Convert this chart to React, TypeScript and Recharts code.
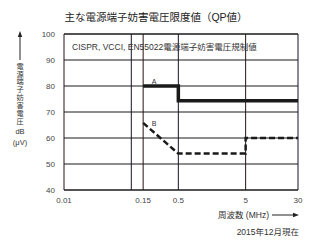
import React from 'react';
import { LineChart, Line, XAxis, YAxis, CartesianGrid, ReferenceLine } from 'recharts';

const xTicks = [0.01, 0.1, 0.15, 0.5, 5, 30];
const xUnlabeled = [0.1];
const xGridA = [0.01, 0.15, 5];
const xGridB = [0.1, 0.5, 30];
const yTicks = [40, 50, 60, 70, 80, 90, 100];

const limitA = [
  { f: 0.15, v: 80 },
  { f: 0.5, v: 80 },
  { f: 0.5, v: 74.3 },
  { f: 30, v: 74.3 },
];

const limitB = [
  { f: 0.15, v: 65.8 },
  { f: 0.5, v: 54 },
  { f: 5, v: 54 },
  { f: 5, v: 60 },
  { f: 30, v: 60 },
];

const yLabelText = '電源端子妨害電圧';

const FONT = '"Liberation Sans", Arial, "Noto Sans CJK JP", sans-serif';
const CJK = '"Noto Sans CJK JP", sans-serif';

export default function App() {
  return (
    <div style={{ position: 'absolute', left: 0, top: 0, width: 313, height: 240, background: '#fff', fontFamily: FONT }}>
      <LineChart
        width={313}
        height={240}
        margin={{ top: 34, right: 15, left: 0, bottom: 30 }}
      >
        <CartesianGrid horizontal vertical={false} stroke="#1a1a1a" strokeWidth={1} />
        <XAxis
          dataKey="f"
          type="number"
          scale="log"
          domain={[0.01, 30]}
          ticks={xTicks}
          allowDataOverflow
          axisLine={false}
          tickLine={false}
          tickSize={0}
          tickMargin={7}
          height={20}
          interval={0}
          tickFormatter={(v: number) => (xUnlabeled.includes(v) ? '' : String(v))}
          tick={{ fontSize: 8, fill: '#444', fontFamily: FONT }}
        />
        <YAxis
          type="number"
          domain={[40, 100]}
          ticks={yTicks}
          interval={0}
          axisLine={false}
          tickLine={false}
          tickSize={0}
          tickMargin={9}
          width={64}
          tick={{ fontSize: 8, fill: '#444', fontFamily: FONT }}
        />
        {xGridA.map((x) => (
          <ReferenceLine key={'va' + x} x={x} stroke="#2a1414" strokeWidth={1} ifOverflow="visible" />
        ))}
        {xGridB.map((x) => (
          <ReferenceLine key={'vb' + x} x={x} stroke="#14142a" strokeWidth={1} ifOverflow="visible" />
        ))}
        <ReferenceLine y={40} stroke="#1a1a1a" strokeWidth={1} />
        <ReferenceLine y={100} stroke="#1a1a1a" strokeWidth={1} />
        <Line
          data={limitA}
          dataKey="v"
          type="linear"
          stroke="#1a1a1a"
          strokeWidth={3.5}
          dot={false}
          activeDot={false}
          isAnimationActive={false}
        />
        <Line
          data={limitB}
          dataKey="v"
          type="linear"
          stroke="#1a1a1a"
          strokeWidth={2.5}
          strokeDasharray="6 3"
          dot={false}
          activeDot={false}
          isAnimationActive={false}
        />
      </LineChart>
      <svg
        width={313}
        height={240}
        style={{ position: 'absolute', left: 0, top: 0, pointerEvents: 'none' }}
        fontFamily={FONT}
      >
        <text x={156} y={17} textAnchor="middle" dominantBaseline="central" fontSize={10.5} fill="#222">
          主な電源端子妨害電圧限度値（QP値）
        </text>
        <text x={72} y={47} dominantBaseline="central" fontSize={8.5} fill="#333">
          CISPR, VCCI, EN55022電源端子妨害電圧規制値
        </text>
        <text x={154} y={81} textAnchor="middle" dominantBaseline="central" fontSize={7} fill="#333">A</text>
        <text x={154} y={123} textAnchor="middle" dominantBaseline="central" fontSize={7} fill="#333">B</text>
        <line x1={20} y1={60} x2={20} y2={36} stroke="#222" strokeWidth={1} />
        <polygon points="20,31 17.8,37 22.2,37" fill="#222" />
        <text
          x={20}
          y={62.4}
          fontSize={7.2}
          fill="#333"
          fontFamily={CJK}
          letterSpacing={0.66}
          style={{ writingMode: 'vertical-rl', textOrientation: 'upright' }}
        >
          {yLabelText}
        </text>
        <text x={20} y={131} textAnchor="middle" dominantBaseline="central" fontSize={7.5} fill="#333">dB</text>
        <text x={20} y={142} textAnchor="middle" dominantBaseline="central" fontSize={7.5} fill="#333">(μV)</text>
        <text x={218} y={215} dominantBaseline="central" fontSize={8.5} fill="#333">周波数 (MHz)</text>
        <line x1={272} y1={215} x2={294} y2={215} stroke="#222" strokeWidth={1} />
        <polygon points="299,215 293,212.8 293,217.2" fill="#222" />
        <text x={299} y={232} textAnchor="end" dominantBaseline="central" fontSize={8.5} fill="#333">
          2015年12月現在
        </text>
      </svg>
    </div>
  );
}
